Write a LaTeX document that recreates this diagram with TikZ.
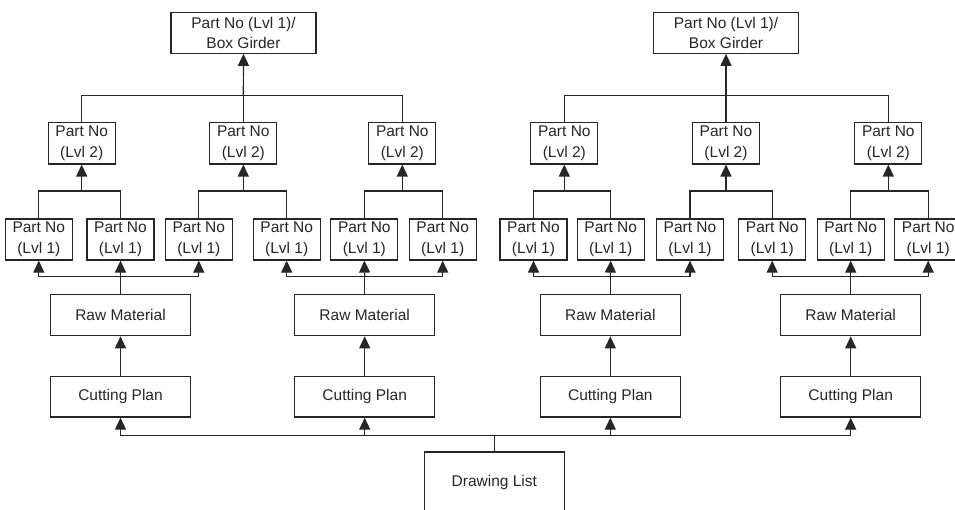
\documentclass[tikz,border=0pt]{standalone}
\usepackage{fontspec}
\setmainfont{Liberation Sans}
\usetikzlibrary{arrows.meta}

\begin{document}
\begin{tikzpicture}[x=1pt,y=-1pt,
  line width=1.2pt, draw=black!85,
  every node/.style={inner sep=0pt, align=center, text=black!85,
    font=\fontsize{15.5}{20.5}\selectfont},
  box/.style={draw, rectangle},
  topbox/.style={box, minimum width=145pt, minimum height=40.5pt},
  lvltwo/.style={box, minimum width=67pt, minimum height=41.3pt},
  lvlone/.style={box, minimum width=67pt, minimum height=41pt},
  widebox/.style={box, minimum width=140pt, minimum height=41pt},
  arr/.style={-{Triangle[length=12pt,width=11pt]}}
]
\useasboundingbox (0,0) rectangle (955,509);

% heights of the horizontal busses
\coordinate (busA) at (0,95.7);
\coordinate (busB) at (0,191);
\coordinate (busC) at (0,276.7);
\coordinate (busD) at (0,435.3);

% assemblies
\node[topbox] (topL) at (243.5,33) {Part No (Lvl 1)/\\Box Girder};
\node[topbox] (topR) at (726,33)   {Part No (Lvl 1)/\\Box Girder};

% level 2 parts
\foreach \n/\x in {a/81.7,b/243.3,c/402.3,d/564.3,e/726,f/888.3}
  \node[lvltwo] (two\n) at (\x,143.3) {Part No\\(Lvl 2)};

% level 1 parts
\foreach \n/\x in {a/38.8,b/120.5,c/198.8,d/286.7,e/364.3,f/442.7,
                   g/533.5,h/610.7,i/690,j/772.2,k/850.7,l/928.2}
  \node[lvlone] (one\n) at (\x,239.5) {Part No\\(Lvl 1)};

% raw material and cutting plans
\foreach \n/\x in {a/120.5,b/364.7,c/610.3,d/850.7}{
  \node[widebox] (raw\n) at (\x,315.2) {Raw Material};
  \node[widebox, minimum height=40.7pt] (cut\n) at (\x,396.7) {Cutting Plan};
}

\node[box, minimum width=140pt, minimum height=60pt] (dl) at (494.3,482) {Drawing List};

% level 2 -> assembly
\draw (twoa.north) |- (twob.north |- busA) -| (twoc.north);
\draw[arr] (twob.north |- busA) -- (topL.south);
\draw (twob.north) -- (twob.north |- busA);
\draw (twod.north) |- (twoe.north |- busA) -| (twof.north);
\draw[arr] (twoe.north |- busA) -- (topR.south);
\draw (twoe.north) -- (twoe.north |- busA);

% level 1 -> level 2
\foreach \t/\p/\q in {a/a/b, b/c/d, c/e/f, d/g/h, e/i/j, f/k/l}{
  \draw (one\p.north) |- (one\q.north |- busB) -- (one\q.north);
  \draw[arr] (two\t.south |- busB) -- (two\t.south);
}

% raw material -> level 1
\foreach \r/\p/\m/\q in {a/a/b/c, b/d/e/f, c/g/h/i, d/j/k/l}{
  \draw (raw\r.north) -- (raw\r.north |- busC);
  \draw[arr] (raw\r.north |- busC) -| (one\p.south);
  \draw[arr] (raw\r.north |- busC) -| (one\q.south);
  \draw[arr] (raw\r.north |- busC) -- (one\m.south);
}

% cutting plan -> raw material
\foreach \r in {a,b,c,d}
  \draw[arr] (cut\r.north) -- (raw\r.south);

% drawing list -> cutting plans
\draw (dl.north) -- (dl.north |- busD);
\draw[arr] (dl.north |- busD) -| (cuta.south);
\draw[arr] (dl.north |- busD) -| (cutd.south);
\draw[arr] (cutb.south |- busD) -- (cutb.south);
\draw[arr] (cutc.south |- busD) -- (cutc.south);
\end{tikzpicture}
\end{document}
